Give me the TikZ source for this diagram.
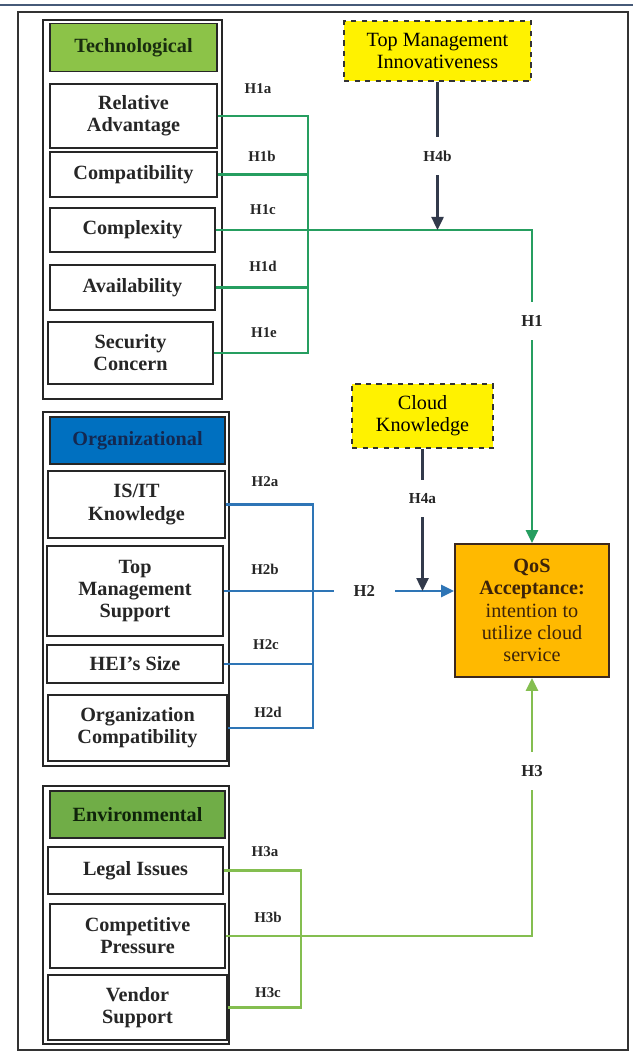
\documentclass[tikz,border=0pt]{standalone}
\usepackage{fontspec}
\setmainfont{Liberation Serif}
\usetikzlibrary{arrows.meta}

\definecolor{techgreen}{RGB}{140,195,72}
\definecolor{orgblue}{RGB}{0,112,192}
\definecolor{envgreen}{RGB}{112,173,71}
\definecolor{honecol}{RGB}{38,158,96}
\definecolor{htwocol}{RGB}{46,117,182}
\definecolor{hthreecol}{RGB}{132,190,80}
\definecolor{modcol}{RGB}{50,58,75}
\definecolor{qosfill}{RGB}{255,185,0}
\definecolor{framecol}{RGB}{70,90,120}

\begin{document}
\begin{tikzpicture}[
        x=0.02cm, y=-0.02cm,
        item/.style={draw=black!85, line width=0.8pt, align=center, text=black!85,
            font=\bfseries\fontsize{11.5}{12.6}\selectfont, inner sep=1pt, minimum width=3.34cm},
        header/.style={item, minimum height=0.96cm},
        moderator/.style={draw=black!80, dashed, line width=0.8pt, fill=yellow, align=center,
            font=\fontsize{11.5}{12.4}\selectfont, inner sep=1pt},
        hlab/.style={font=\bfseries\fontsize{8.5}{9}\selectfont, text=black!85},
        gaplab/.style={fill=white, font=\bfseries\fontsize{9.5}{10}\selectfont, text=black!85,
            inner xsep=0.4cm, inner ysep=0.27cm},
        hone/.style={draw=honecol, line width=1.4pt},
        htwo/.style={draw=htwocol, line width=1.4pt},
        hthree/.style={draw=hthreecol, line width=1.4pt},
        link/.style={-{Triangle[length=2.6mm,width=2.4mm]}}
    ]
        \useasboundingbox (0,0) rectangle (633,1053);

        % Marco
        \draw[framecol, line width=0.9pt] (0,5) -- (633,5);
        \draw[black!80, line width=0.7pt] (18,12) rectangle (628,1050);

        % Grupos
        \draw[black!85, line width=0.7pt] (43,20) rectangle (222,399);
        \draw[black!85, line width=0.7pt] (43,412) rectangle (229,766);
        \draw[black!85, line width=0.7pt] (43,786) rectangle (229,1044);

        % Tecnologico
        \node[header, fill=techgreen, text={rgb,255:red,25;green,45;blue,15}] (tech) at (133.5,47.5) {Technological};
        \node[item, minimum height=1.28cm] (ra) at (133.5,116) {Relative\\Advantage};
        \node[item, minimum height=0.90cm] (cb) at (133.5,174.5) {Compatibility};
        \node[item, minimum height=0.88cm, minimum width=3.3cm] (cx) at (132.5,230) {Complexity};
        \node[item, minimum height=0.90cm, minimum width=3.3cm] (av) at (132.5,287.5) {Availability};
        \node[item, minimum height=1.24cm, minimum width=3.3cm] (sc) at (130.5,353) {Security\\Concern};

        % Organizacional
        \node[header, fill=orgblue, minimum width=3.5cm, minimum height=0.94cm,
            text={rgb,255:red,20;green,40;blue,80}] (org) at (137.5,440.5) {Organizational};
        \node[item, minimum height=1.34cm, minimum width=3.54cm] (isit) at (136.5,504.5) {IS/IT\\Knowledge};
        \node[item, minimum height=1.80cm, minimum width=3.52cm] (tms) at (135,591) {Top\\Management\\Support};
        \node[item, minimum height=0.76cm, minimum width=3.52cm] (hei) at (135,664) {HEI’s Size};
        \node[item, minimum height=1.32cm, minimum width=3.58cm] (oc) at (137.5,728) {Organization\\Compatibility};

        % Entorno
        \node[header, fill=envgreen, minimum width=3.5cm, minimum height=0.94cm,
            text={rgb,255:red,15;green,35;blue,10}] (env) at (137.5,814.5) {Environmental};
        \node[item, minimum height=0.94cm, minimum width=3.5cm] (li) at (135.5,870.5) {Legal Issues};
        \node[item, minimum height=1.28cm, minimum width=3.5cm] (cp) at (137.5,936) {Competitive\\Pressure};
        \node[item, minimum height=1.30cm, minimum width=3.58cm] (vs) at (137.5,1007.5) {Vendor\\Support};

        % Moderadores y resultado
        \node[moderator, minimum width=3.74cm, minimum height=1.2cm] (tmi) at (437.5,51) {Top Management\\Innovativeness};
        \node[moderator, minimum width=2.82cm, minimum height=1.28cm] (ck) at (422.5,416) {Cloud\\Knowledge};
        \node[draw={rgb,255:red,60;green,40;blue,30}, line width=1pt, fill=qosfill, align=center,
            minimum width=3.08cm, minimum height=2.66cm, inner sep=1pt,
            text={rgb,255:red,60;green,35;blue,10},
            font=\fontsize{11.5}{12.6}\selectfont] (qos) at (532,610.5)
            {\textbf{QoS}\\\textbf{Acceptance:}\\intention to\\utilize cloud\\service};

        % Barras colectoras
        \coordinate (bone) at (308,0);
        \coordinate (btwo) at (313,0);
        \coordinate (bthree) at (301,0);

        % H1
        \draw[hone] (ra.east) -- (ra.east -| bone) -- (sc.east -| bone) -- (sc.east);
        \draw[hone] (cb.east) -- (cb.east -| bone);
        \draw[hone] (av.east) -- (av.east -| bone);
        \draw[hone, link] (cx.east) -| node[gaplab, pos=0.645] {H1} (qos.north);
        \node[hlab] (la) at (258,89) {H1a};
        \node[hlab] (lb) at (262,156) {H1b};
        \node[hlab] (lc) at (263,210) {H1c};
        \node[hlab] (ld) at (263,266) {H1d};
        \node[hlab] (le) at (264,333) {H1e};

        % H2
        \draw[htwo] (isit.east) -- (isit.east -| btwo) -- (oc.east -| btwo) -- (oc.east);
        \draw[htwo] (hei.east) -- (hei.east -| btwo);
        \draw[htwo, link] (tms.east) -- node[gaplab, pos=0.61] {H2} (tms.east -| qos.west);
        \node[hlab] (ma) at (265,482) {H2a};
        \node[hlab] (mb) at (265,569) {H2b};
        \node[hlab] (mc) at (266,645) {H2c};
        \node[hlab] (md) at (268,712) {H2d};

        % H3
        \draw[hthree] (li.east) -- (li.east -| bthree) -- (vs.east -| bthree) -- (vs.east);
        \draw[hthree, link] (cp.east) -| node[gaplab, pos=0.82] {H3} (qos.south);
        \node[hlab] (na) at (265,852) {H3a};
        \node[hlab] (nb) at (268,917) {H3b};
        \node[hlab] (nc) at (268,993) {H3c};

        % H4
        \draw[modcol, line width=1.4pt, link] (tmi.south) -- node[gaplab, font=\bfseries\fontsize{8.7}{9}\selectfont] {H4b} (tmi.south |- cx.east);
        \draw[modcol, line width=1.4pt, link] (ck.south) -- node[gaplab, pos=0.35, font=\bfseries\fontsize{8.7}{9}\selectfont] {H4a} (ck.south |- tms.east);
    \end{tikzpicture}
\end{document}
